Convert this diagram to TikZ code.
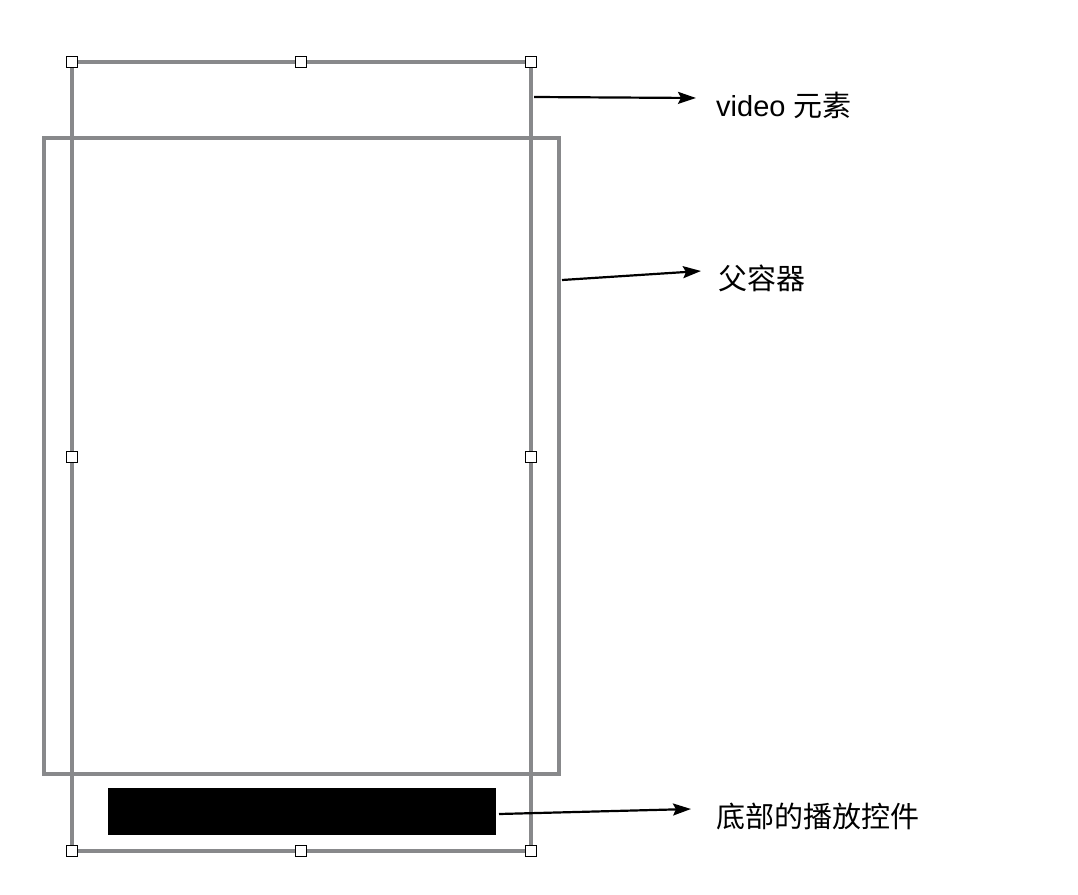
\documentclass[tikz,border=0pt]{standalone}
\usepackage{fontspec}
\setmainfont{Liberation Sans}
\newfontfamily\cjk{Noto Sans CJK SC}
\usetikzlibrary{arrows.meta}
\definecolor{framegray}{HTML}{88898B}
\tikzstyle{frame}=[draw=framegray, line width=3.6pt]
\tikzstyle{handle}=[rectangle, draw, fill=white, line width=1pt, minimum size=11pt, inner sep=0pt]
\tikzstyle{pointer}=[line width=2.2pt, -{Stealth[length=18pt, width=12pt, inset=3pt]}]
\tikzstyle{caption}=[anchor=west, inner sep=0pt, font=\fontsize{29}{33}\selectfont]

\begin{document}
\begin{tikzpicture}[x=1pt, y=-1pt]
      \useasboundingbox (0,0) rectangle (1078,894);
      % video element and parent container
      \draw[frame] (72,62) rectangle (531,851);
      \draw[frame] (44,138) rectangle (559,774);
      \fill[black] (108,788) rectangle (496,835);
      % resize handles
      \node[handle](h1) at (72,62) {};
      \node[handle](h2) at (301,62) {};
      \node[handle](h3) at (531,62) {};
      \node[handle](h4) at (72,457) {};
      \node[handle](h5) at (531,457) {};
      \node[handle](h6) at (72,851) {};
      \node[handle](h7) at (301,851) {};
      \node[handle](h8) at (531,851) {};
      % labels
      \node[caption](video) at (716,105) {video {\cjk 元素}};
      \node[caption](parent) at (718,278) {\cjk 父容器};
      \node[caption](controls) at (716,816) {\cjk 底部的播放控件};
      \coordinate (s1) at (534,97);
      \coordinate (e1) at (696,98);
      \coordinate (s2) at (562,280);
      \coordinate (e2) at (701,271);
      \coordinate (s3) at (499,814);
      \coordinate (e3) at (691,809);
      \begin{scope}[every path/.style={pointer}]
        \draw (s1) -- (e1);
        \draw (s2) -- (e2);
        \draw (s3) -- (e3);
      \end{scope}
    \end{tikzpicture}
\end{document}
